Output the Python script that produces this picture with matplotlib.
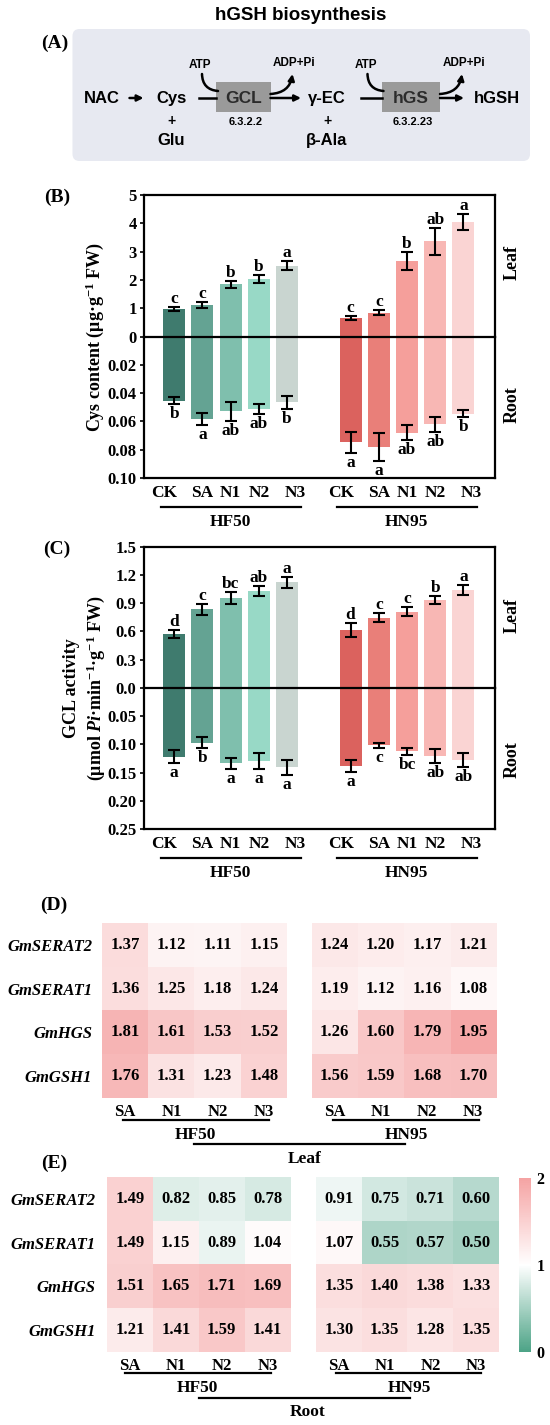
import matplotlib
matplotlib.use('Agg')
import matplotlib.pyplot as plt
import numpy as np
from matplotlib.colors import LinearSegmentedColormap
from matplotlib.patches import FancyBboxPatch, Rectangle

plt.rcParams['font.family'] = ['Liberation Serif', 'DejaVu Serif']
plt.rcParams['font.weight'] = 'bold'
plt.rcParams['mathtext.fontset'] = 'custom'
plt.rcParams['mathtext.rm'] = 'Liberation Serif:bold'
plt.rcParams['mathtext.it'] = 'Liberation Serif:italic:bold'
plt.rcParams['mathtext.bf'] = 'Liberation Serif:bold'

# ---------------- data ----------------
treatments = ['CK', 'SA', 'N1', 'N2', 'N3']
cultivars = ['HF50', 'HN95']

# (B) Cys content, leaf (up) and root (down)
cys_leaf = {'HF50': [0.97, 1.11, 1.85, 2.04, 2.51], 'HN95': [0.67, 0.85, 2.66, 3.36, 4.04]}
cys_leaf_err = {'HF50': [0.08, 0.10, 0.12, 0.15, 0.15], 'HN95': [0.07, 0.10, 0.32, 0.46, 0.28]}
cys_leaf_sig = {'HF50': ['c', 'c', 'b', 'b', 'a'], 'HN95': ['c', 'c', 'b', 'ab', 'a']}
cys_root = {'HF50': [0.0452, 0.0584, 0.0527, 0.0513, 0.0464], 'HN95': [0.0748, 0.0779, 0.0680, 0.0621, 0.0544]}
cys_root_err = {'HF50': [0.0025, 0.0042, 0.0068, 0.0037, 0.0047], 'HN95': [0.0073, 0.0098, 0.0052, 0.0053, 0.0022]}
cys_root_sig = {'HF50': ['b', 'a', 'ab', 'ab', 'b'], 'HN95': ['a', 'a', 'ab', 'ab', 'b']}

# (C) GCL activity
gcl_leaf = {'HF50': [0.57, 0.834, 0.951, 1.03, 1.12], 'HN95': [0.614, 0.745, 0.81, 0.93, 1.04]}
gcl_leaf_err = {'HF50': [0.043, 0.057, 0.064, 0.05, 0.06], 'HN95': [0.07, 0.046, 0.046, 0.043, 0.053]}
gcl_leaf_sig = {'HF50': ['d', 'c', 'bc', 'ab', 'a'], 'HN95': ['d', 'c', 'c', 'b', 'a']}
gcl_root = {'HF50': [0.1218, 0.097, 0.1335, 0.130, 0.1406], 'HN95': [0.138, 0.1018, 0.112, 0.1206, 0.1276]}
gcl_root_err = {'HF50': [0.011, 0.010, 0.010, 0.014, 0.0127], 'HN95': [0.011, 0.005, 0.006, 0.0115, 0.0127]}
gcl_root_sig = {'HF50': ['a', 'b', 'a', 'a', 'a'], 'HN95': ['a', 'c', 'bc', 'ab', 'ab']}

# (D)/(E) relative expression heatmaps
genes = ['GmSERAT2', 'GmSERAT1', 'GmHGS', 'GmGSH1']
heat_cols = ['SA', 'N1', 'N2', 'N3']
leaf_hf50 = [[1.37, 1.12, 1.11, 1.15], [1.36, 1.25, 1.18, 1.24], [1.81, 1.61, 1.53, 1.52], [1.76, 1.31, 1.23, 1.48]]
leaf_hn95 = [[1.24, 1.20, 1.17, 1.21], [1.19, 1.12, 1.16, 1.08], [1.26, 1.60, 1.79, 1.95], [1.56, 1.59, 1.68, 1.70]]
root_hf50 = [[1.49, 0.82, 0.85, 0.78], [1.49, 1.15, 0.89, 1.04], [1.51, 1.65, 1.71, 1.69], [1.21, 1.41, 1.59, 1.41]]
root_hn95 = [[0.91, 0.75, 0.71, 0.60], [1.07, 0.55, 0.57, 0.50], [1.35, 1.40, 1.38, 1.33], [1.30, 1.35, 1.28, 1.35]]

bar_colors = {'HF50': ['#3f7b6e', '#64a393', '#7fbfad', '#98d9c6', '#c9d5d0'],
              'HN95': ['#db625e', '#e97f79', '#f59f9b', '#f8b7b4', '#fad4d3']}
xpos = {'HF50': np.arange(5), 'HN95': np.arange(5) + 6.25}
label_shift = [-0.35, 0, 0, 0, 0.28]

W, H = 550, 1425
fig = plt.figure(figsize=(W / 100, H / 100), dpi=100)


def px_axes(x0, y0, x1, y1):
    return fig.add_axes([x0 / W, 1 - y1 / H, (x1 - x0) / W, (y1 - y0) / H])


ov = fig.add_axes([0, 0, 1, 1])
ov.set_xlim(0, W)
ov.set_ylim(H, 0)
ov.axis('off')

SANS = 'Liberation Sans'

# ---------------- (A) pathway ----------------
ov.text(301, 15, 'hGSH biosynthesis', family=SANS, fontsize=13.5, weight='bold', ha='center', va='center')
ov.text(55, 43, '(A)', fontsize=14, ha='center', va='center')
ov.add_patch(FancyBboxPatch((72.5, 29), 457.5, 132, boxstyle='round,pad=0,rounding_size=7',
                            fc='#e7e9f1', ec='none'))
ry = 98
for x, s in [(101.5, 'NAC'), (171.5, 'Cys'), (327, 'γ-EC'), (497, 'hGSH')]:
    ov.text(x, ry, s, family=SANS, fontsize=12, weight='bold', ha='center', va='center')
for x, s in [(171.5, 'Glu'), (327, 'β-Ala')]:
    ov.text(x, 121, '+', family=SANS, fontsize=10, weight='bold', ha='center', va='center')
    ov.text(x, 140, s, family=SANS, fontsize=12, weight='bold', ha='center', va='center')
for (x0, x1), name, ec in [((216, 270.5), 'GCL', '6.3.2.2'), ((381.5, 440), 'hGS', '6.3.2.23')]:
    ov.add_patch(Rectangle((x0, 82), x1 - x0, 30, fc='#9a9a9a', ec='none'))
    ov.text((x0 + x1) / 2, ry, name, family=SANS, fontsize=12.5, weight='bold', color='#2b2b2b',
            ha='center', va='center')
    ov.text((x0 + x1) / 2 + 2, 122, ec, family=SANS, fontsize=8, weight='bold', ha='center', va='center')
    ov.text(x0 - 16, 65, 'ATP', family=SANS, fontsize=8.5, weight='bold', ha='center', va='center')
    ov.text(x1 + 24, 63, 'ADP+Pi', family=SANS, fontsize=8.5, weight='bold', ha='center', va='center')
    ov.annotate('', xy=(x0 + 2, 91), xytext=(x0 - 14, 74),
                arrowprops=dict(arrowstyle='-', lw=1.8, color='k', shrinkA=0, shrinkB=0,
                                connectionstyle='arc3,rad=0.45'))
    ov.annotate('', xy=(x1 + 22, 74), xytext=(x1, 94),
                arrowprops=dict(arrowstyle='-|>', lw=1.8, color='k', shrinkA=0, shrinkB=0,
                                mutation_scale=9, connectionstyle='arc3,rad=0.4'))
for x0, x1 in [(129.5, 143.5), (270.5, 301), (440, 464)]:
    ov.annotate('', xy=(x1, ry), xytext=(x0, ry),
                arrowprops=dict(arrowstyle='-|>', lw=1.8, color='k', shrinkA=0, shrinkB=0, mutation_scale=9))
for x0, x1 in [(199, 216), (360.5, 381.5)]:
    ov.plot([x0, x1], [ry, ry], color='k', lw=1.8)


# ---------------- (B), (C) bar panels ----------------
def bar_panel(top, zero, bottom, leaf, leaf_err, leaf_sig, root, root_err, root_sig,
              leaf_lim, leaf_ticks, leaf_fmt, root_lim, root_ticks, root_fmt):
    at = px_axes(143.5, top, 494.5, zero)
    ab = px_axes(143.5, zero, 494.5, bottom)
    for ax in (at, ab):
        ax.set_xlim(-1.09, 11.35)
        for sp in ax.spines.values():
            sp.set_linewidth(1.6)
        ax.tick_params(axis='y', length=3, width=1.2, labelsize=12, pad=2)
        ax.tick_params(axis='x', length=0)
    at.set_ylim(*leaf_lim)
    ab.set_ylim(*root_lim)
    at.spines['bottom'].set_visible(False)
    ab.spines['top'].set_visible(False)
    ab.axhline(0, color='k', lw=1.6, clip_on=False, zorder=5)
    at.set_xticks([])
    at.set_yticks(leaf_ticks)
    at.set_yticklabels([leaf_fmt.format(v) for v in leaf_ticks])
    ab.set_yticks(root_ticks)
    ab.set_yticklabels([root_fmt.format(v) for v in root_ticks])
    ticks, labels = [], []
    for cv in cultivars:
        x = xpos[cv]
        at.bar(x, leaf[cv], width=0.78, color=bar_colors[cv], zorder=1)
        at.errorbar(x, leaf[cv], yerr=leaf_err[cv], fmt='none', ecolor='k', elinewidth=1.5,
                    capsize=4, capthick=1.5, zorder=3)
        ab.bar(x, root[cv], width=0.78, color=bar_colors[cv], zorder=1)
        ab.errorbar(x, root[cv], yerr=root_err[cv], fmt='none', ecolor='k', elinewidth=1.5,
                    capsize=4, capthick=1.5, zorder=3)
        for xi, v, e, s in zip(x, leaf[cv], leaf_err[cv], leaf_sig[cv]):
            at.annotate(s, (xi, v + e), xytext=(0, 0), textcoords='offset points',
                        ha='center', va='bottom', fontsize=12.5, annotation_clip=False)
        for xi, v, e, s in zip(x, root[cv], root_err[cv], root_sig[cv]):
            ab.annotate(s, (xi, v + e), xytext=(0, -1.5), textcoords='offset points',
                        ha='center', va='top', fontsize=12.5, annotation_clip=False)
        ticks += list(x + np.array(label_shift))
        labels += treatments
    ab.set_xticks(ticks)
    ab.set_xticklabels(labels, fontsize=12.5)
    ab.tick_params(axis='x', pad=5)
    return at, ab


bar_panel(195, 336.7, 478, cys_leaf, cys_leaf_err, cys_leaf_sig, cys_root, cys_root_err, cys_root_sig,
          (0, 5), [0, 1, 2, 3, 4, 5], '{:.0f}', (0.10, 0), [0.02, 0.04, 0.06, 0.08, 0.10], '{:.2f}')
bar_panel(546.8, 687.7, 829.3, gcl_leaf, gcl_leaf_err, gcl_leaf_sig, gcl_root, gcl_root_err, gcl_root_sig,
          (0, 1.5), [0, 0.3, 0.6, 0.9, 1.2, 1.5], '{:.1f}', (0.25, 0), [0.05, 0.10, 0.15, 0.20, 0.25], '{:.2f}')

ov.text(57, 197, '(B)', fontsize=14, ha='center', va='center')
ov.text(57, 549, '(C)', fontsize=14, ha='center', va='center')
ov.text(94.5, 337, r'Cys content (μg·g$^{-1}$ FW)', rotation=90, fontsize=13, ha='center', va='center')
ov.text(72, 688, 'GCL activity', rotation=90, fontsize=13, ha='center', va='center')
ov.text(96, 688, r'(μmol $Pi$·min$^{-1}$·g$^{-1}$ FW)', rotation=90, fontsize=13, ha='center', va='center')
for yl, yr in [(262, 405), (615, 760)]:
    ov.text(512, yl, 'Leaf', rotation=90, fontsize=13, ha='center', va='center')
    ov.text(512, yr, 'Root', rotation=90, fontsize=13, ha='center', va='center')
for yline, ytxt in [(507, 522), (858, 873)]:
    ov.plot([161, 301], [yline, yline], color='k', lw=1.6)
    ov.plot([337, 477], [yline, yline], color='k', lw=1.6)
    ov.text(230, ytxt, 'HF50', fontsize=12.5, ha='center', va='center')
    ov.text(406, ytxt, 'HN95', fontsize=12.5, ha='center', va='center')

# ---------------- (D), (E) heatmaps ----------------
cmap = LinearSegmentedColormap.from_list('gwr', ['#4ca386', '#ffffff', '#f5a3a3'])


def heat_block(x0, x1, y0, y1, data, show_rows, pad):
    ax = px_axes(x0, y0, x1, y1)
    arr = np.array(data)
    im = ax.imshow(arr, cmap=cmap, vmin=0, vmax=2, aspect='auto')
    for i in range(arr.shape[0]):
        for j in range(arr.shape[1]):
            ax.text(j, i, f'{arr[i, j]:.2f}', ha='center', va='center', fontsize=12)
    ax.set_xticks(range(len(heat_cols)))
    ax.set_xticklabels(heat_cols, fontsize=12)
    ax.set_yticks(range(len(genes)))
    if show_rows:
        ax.set_yticklabels(genes, fontsize=12, style='italic')
    else:
        ax.set_yticklabels([])
    ax.tick_params(length=0, pad=pad)
    ax.tick_params(axis='x', pad=4)
    for sp in ax.spines.values():
        sp.set_visible(False)
    return im


heat_block(102, 287, 923, 1098, leaf_hf50, True, 7)
heat_block(311.5, 496, 923, 1098, leaf_hn95, False, 7)
heat_block(107, 290.5, 1177, 1352, root_hf50, True, 8)
im = heat_block(316, 499, 1177, 1352, root_hn95, False, 8)

cax = px_axes(519, 1178, 531, 1352)
cb = fig.colorbar(im, cax=cax, ticks=[0, 1, 2])
cb.outline.set_visible(False)
cb.ax.tick_params(length=0, labelsize=11.5, pad=4)

ov.text(54, 905, '(D)', fontsize=14, ha='center', va='center')
ov.text(54, 1163, '(E)', fontsize=14, ha='center', va='center')
for (l1, l2, lg), (yl, yt, yb, ylab), (tx1, tx2, bl), name in [
        (((123, 268.5), (332.5, 478.5), (194, 405)), (1120, 1135, 1144, 1159), (195, 406, 304.5), 'Leaf'),
        (((125, 271), (336, 481), (199, 410)), (1373, 1388, 1398, 1412), (197, 409, 308), 'Root')]:
    ov.plot(l1, [yl, yl], color='k', lw=1.6)
    ov.plot(l2, [yl, yl], color='k', lw=1.6)
    ov.text(tx1, yt, 'HF50', fontsize=12.5, ha='center', va='center')
    ov.text(tx2, yt, 'HN95', fontsize=12.5, ha='center', va='center')
    ov.plot(lg, [yb, yb], color='k', lw=1.6)
    ov.text(bl, ylab, name, fontsize=12.5, ha='center', va='center')

fig.savefig('out.png', dpi=100)
